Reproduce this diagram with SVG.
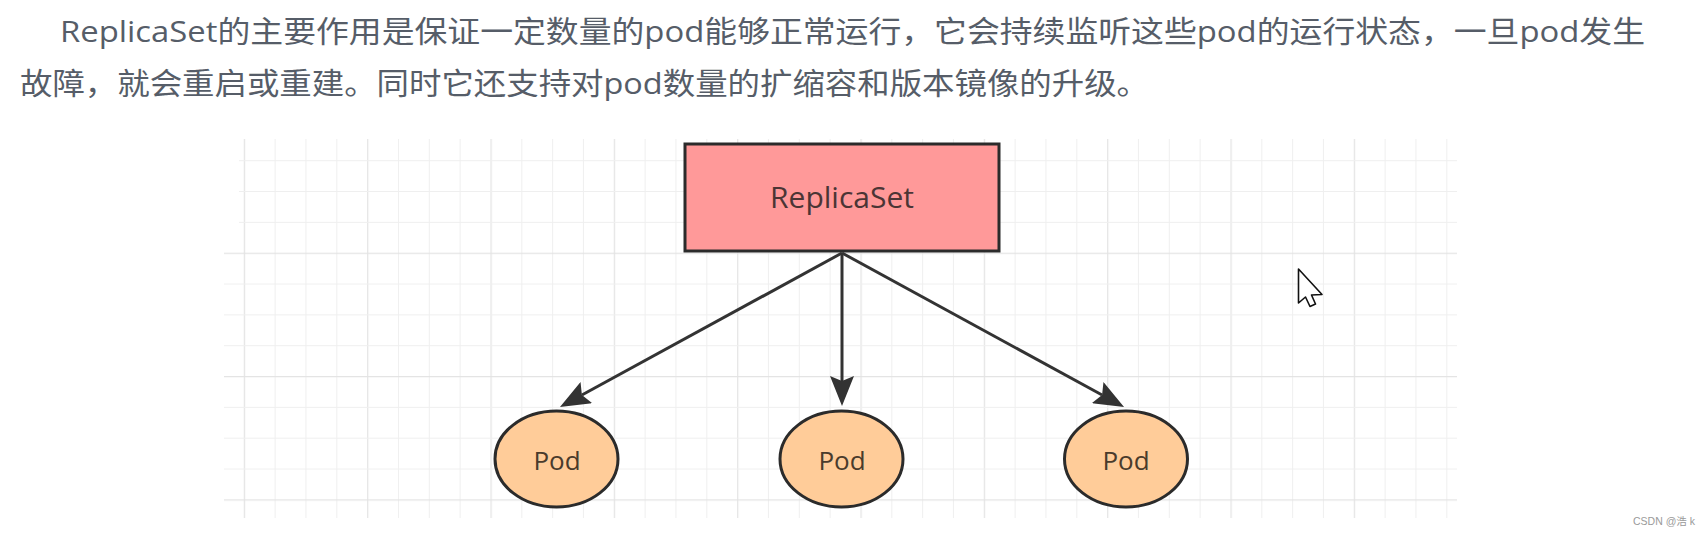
<svg xmlns="http://www.w3.org/2000/svg" width="1708" height="536" viewBox="0 0 1708 536">
  <style>
    .para { font-family: "Open Sans", "Noto Sans CJK SC", sans-serif; font-size: 30px; fill: #565d68; }
    .node-stroke { stroke: #2b2b2b; stroke-width: 3; }
    .lbl { font-family: "Open Sans", "Noto Sans", sans-serif; text-anchor: middle; }
    .conn { stroke: #333333; stroke-width: 3; fill: none; marker-end: url(#arrow); }
  </style>
  <defs>
    <pattern id="gv" x="243.8" y="0" width="123.333" height="20" patternUnits="userSpaceOnUse">
      <rect x="0" y="0" width="1.2" height="20" fill="#e3e3e3"/>
      <rect x="30.833" y="0" width="1" height="20" fill="#efefef"/>
      <rect x="61.667" y="0" width="1" height="20" fill="#efefef"/>
      <rect x="92.5" y="0" width="1" height="20" fill="#efefef"/>
    </pattern>
    <pattern id="gh" x="0" y="160.2" width="20" height="123.333" patternUnits="userSpaceOnUse">
      <rect x="0" y="0" width="20" height="1" fill="#efefef"/>
      <rect x="0" y="30.833" width="20" height="1" fill="#efefef"/>
      <rect x="0" y="61.667" width="20" height="1" fill="#efefef"/>
      <rect x="0" y="92.5" width="20" height="1.2" fill="#e3e3e3"/>
    </pattern>
    <marker id="arrow" markerUnits="userSpaceOnUse" markerWidth="31" markerHeight="24" refX="5" refY="12" orient="auto">
      <path d="M0,0 L30,12 L0,24 L5,12 Z" fill="#333333"/>
    </marker>
  </defs>

  <rect x="0" y="0" width="1708" height="536" fill="#ffffff"/>

  <g id="paragraph">
    <text class="para" x="60" y="42" textLength="1585" lengthAdjust="spacingAndGlyphs">ReplicaSet的主要作用是保证一定数量的pod能够正常运行，它会持续监听这些pod的运行状态，一旦pod发生</text>
    <text class="para" x="20" y="94" textLength="1129" lengthAdjust="spacingAndGlyphs">故障，就会重启或重建。同时它还支持对pod数量的扩缩容和版本镜像的升级。</text>
  </g>

  <g id="grid">
    <rect x="243" y="139" width="1205" height="379" fill="url(#gv)"/>
    <rect x="239" y="158" width="1218" height="70" fill="url(#gh)"/>
    <rect x="224" y="250" width="1233" height="256" fill="url(#gh)"/>
  </g>

  <g id="connectors">
    <line class="conn" x1="842" y1="253" x2="581.9" y2="395"/>
    <line class="conn" x1="842" y1="253" x2="842" y2="381"/>
    <line class="conn" x1="842" y1="253" x2="1102.1" y2="395"/>
  </g>

  <g id="replicaset">
    <rect x="685" y="144" width="314" height="107" fill="#ff9999" class="node-stroke"/>
    <text class="lbl" x="842" y="208" font-size="30" fill="#4b3535">ReplicaSet</text>
  </g>

  <g id="pod1">
    <ellipse cx="556.5" cy="459" rx="61.5" ry="48" fill="#ffcc99" class="node-stroke"/>
    <text class="lbl" x="557" y="470" font-size="26" fill="#4a3b2c">Pod</text>
  </g>
  <g id="pod2">
    <ellipse cx="841.5" cy="459" rx="61.5" ry="48" fill="#ffcc99" class="node-stroke"/>
    <text class="lbl" x="842" y="470" font-size="26" fill="#4a3b2c">Pod</text>
  </g>
  <g id="pod3">
    <ellipse cx="1126" cy="459" rx="61.5" ry="48" fill="#ffcc99" class="node-stroke"/>
    <text class="lbl" x="1126" y="470" font-size="26" fill="#4a3b2c">Pod</text>
  </g>

  <g id="cursor">
    <polygon points="1298.5,269 1298.5,303 1305.5,297 1310,306.5 1315.5,304 1311.5,295 1322,294.5" fill="#ffffff" stroke="#111111" stroke-width="1.6" stroke-linejoin="round"/>
  </g>

  <text x="1633" y="525" font-family="Liberation Sans, Noto Sans CJK SC, sans-serif" font-size="10.5" fill="#9a9a9a">CSDN @浩 k</text>
</svg>
